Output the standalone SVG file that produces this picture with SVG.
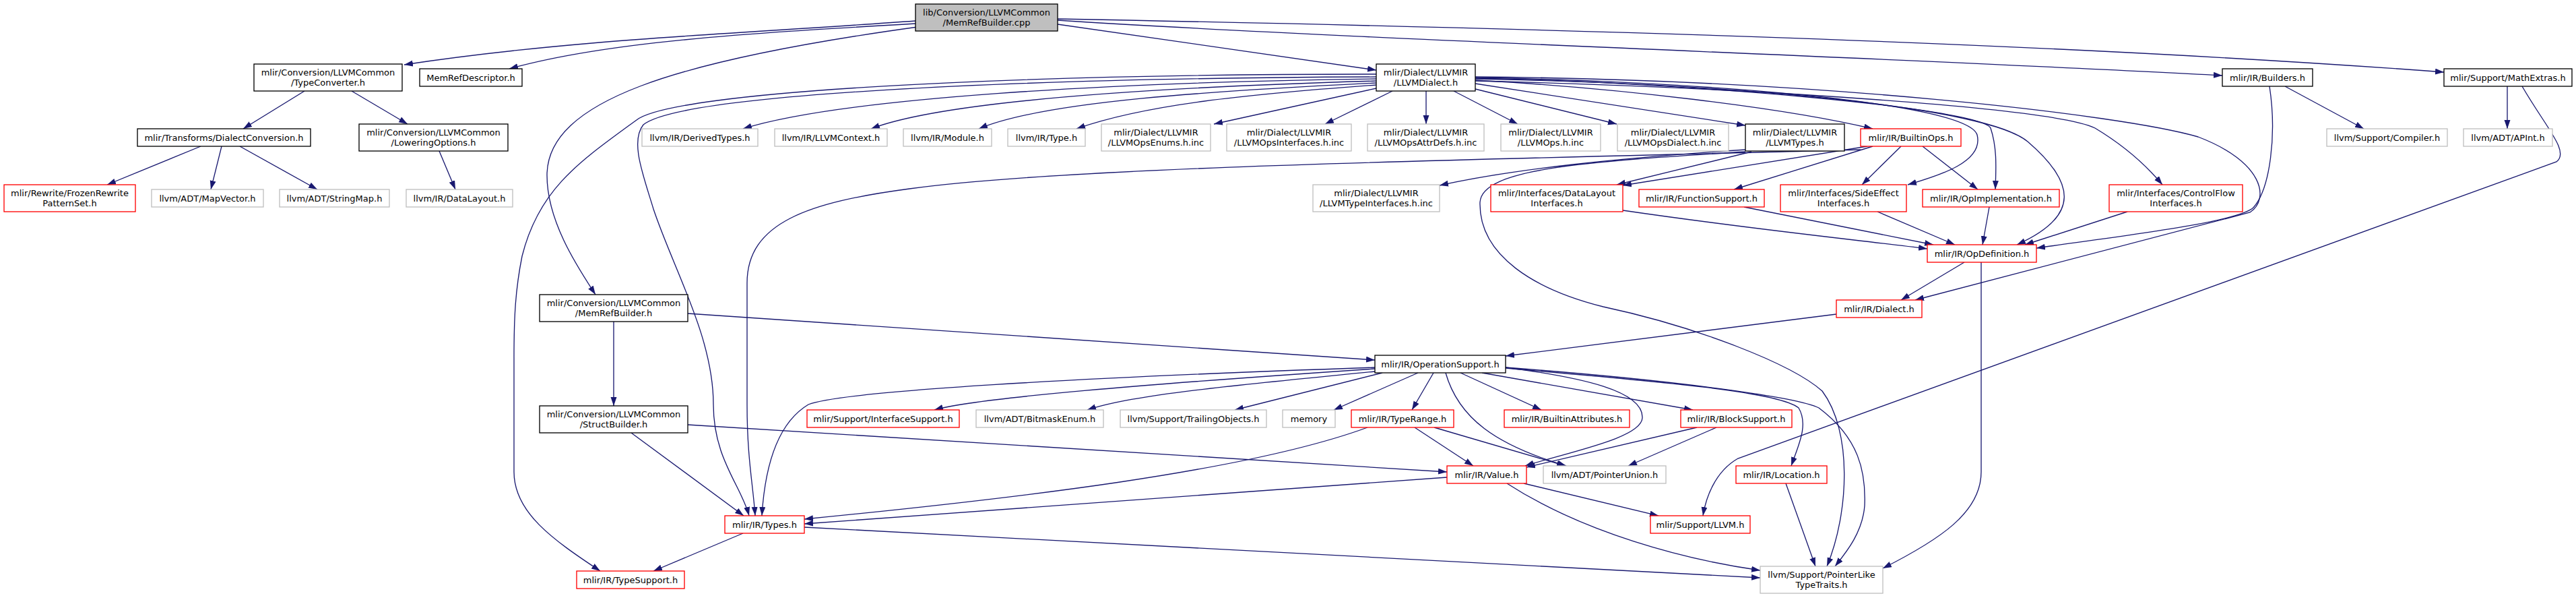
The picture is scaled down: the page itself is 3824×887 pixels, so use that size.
<svg xmlns="http://www.w3.org/2000/svg" width="3824" height="887" viewBox="0 0 3824 887">
<style>
rect{stroke-width:1.33}
.root{fill:#bfbfbf;stroke:#000}
.blk{fill:#fff;stroke:#000}
.gry{fill:#fff;stroke:#bfbfbf}
.red{fill:#fff;stroke:#ff0000}
text{font-family:"DejaVu Sans","Liberation Sans",sans-serif;font-size:13px;text-anchor:middle;fill:#000}
.e path{fill:none;stroke:#191970;stroke-width:1.33;marker-end:url(#ah)}
</style>
<defs>
<marker id="ah" markerWidth="14" markerHeight="10" refX="13" refY="4.5" orient="auto" markerUnits="userSpaceOnUse"><path d="M0,0 L13,4.5 L0,9 z" fill="#191970"/></marker>
</defs>
<rect width="3824" height="887" fill="#fff"/>
<g id="edges" class="e">
<path d="M1359,31 C1100,50 850,58 600,96"/>
<path d="M1359,35 C1100,50 900,62 756,102"/>
<path d="M1362,40 C1000,90 812,150 812,260 C812,330 860,400 884,437"/>
<path d="M1570,36 L2043,104"/>
<path d="M1570,30 C2000,58 2800,85 3299,112"/>
<path d="M1570,28 C2200,40 3000,60 3628,107"/>
<path d="M452,135 L361,191"/>
<path d="M522,135 L605,184"/>
<path d="M298,217 L159,274"/>
<path d="M329,217 L313,281"/>
<path d="M356,217 L471,281"/>
<path d="M652,224 L676,281"/>
<path d="M2043,117 C1650,122 1250,145 1103,191"/>
<path d="M2043,120 C1700,130 1400,150 1293,191"/>
<path d="M2043,123 C1800,135 1550,150 1453,191"/>
<path d="M2043,126 C1850,140 1700,155 1598,191"/>
<path d="M2043,131 L1802,184"/>
<path d="M2067,135 L1967,184"/>
<path d="M2117,135 L2117,184"/>
<path d="M2158,135 L2253,184"/>
<path d="M2190,132 L2400,184"/>
<path d="M2190,124 L2591,186"/>
<path d="M2190,119 C2400,130 2650,160 2780,191"/>
<path d="M2190,115 C2500,120 2920,150 2935,200 C2945,240 2880,260 2832,274"/>
<path d="M2190,116 C2500,122 2940,160 2955,190 C2965,220 2963,250 2962,281"/>
<path d="M2190,117 C2600,125 2950,160 3010,210 C3080,270 3090,320 2994,363"/>
<path d="M2190,120 C2600,130 3050,160 3110,190 C3160,220 3190,250 3210,274"/>
<path d="M2190,114 C2700,118 3150,170 3263,203 C3360,240 3370,295 3340,315 L2843,445"/>
<path d="M2043,114 C1500,116 1010,140 955,185 C935,210 955,260 970,310 C1000,400 1059,500 1059,600 C1059,680 1100,720 1112,765"/>
<path d="M2043,110 C1500,110 1000,135 945,178 C860,240 800,280 775,380 C765,430 763,470 763,530 L763,700 C763,760 820,800 891,847"/>
<path d="M3392,128 L3509,191"/>
<path d="M3369,128 C3380,200 3370,280 3345,308 C3320,330 3150,350 3023,368"/>
<path d="M3722,128 L3722,191"/>
<path d="M3744,128 C3780,190 3815,225 3795,240 L2580,680 C2545,700 2532,740 2528,765"/>
<path d="M2591,222 C2400,235 2250,250 2137,275"/>
<path d="M2600,225 L2400,274"/>
<path d="M2591,225 C2350,240 2200,250 2197,300 C2195,380 2280,430 2380,455 C2520,485 2660,540 2705,580 C2750,640 2745,760 2712,840"/>
<path d="M2822,217 L2764,274"/>
<path d="M2854,217 L2936,281"/>
<path d="M2780,217 L2574,281"/>
<path d="M2772,217 L2409,275"/>
<path d="M2762,222 C2300,235 1600,245 1350,280 C1200,300 1109,330 1109,420 L1109,600 C1109,680 1118,720 1121,765"/>
<path d="M2409,312 C2600,340 2750,355 2861,369"/>
<path d="M2589,307 L2870,363"/>
<path d="M2787,314 L2902,363"/>
<path d="M2953,307 L2943,363"/>
<path d="M3158,314 L3006,363"/>
<path d="M2916,389 L2822,445"/>
<path d="M2941,389 L2941,700 C2941,760 2880,800 2795,843"/>
<path d="M2726,466 L2235,528"/>
<path d="M911,477 L911,602"/>
<path d="M1021,465 L2041,534"/>
<path d="M937,642 L1104,765"/>
<path d="M1021,630 L2148,700"/>
<path d="M2041,545 C1600,560 1250,580 1200,600 C1150,630 1135,700 1131,765"/>
<path d="M2041,547 C1700,570 1450,590 1387,608"/>
<path d="M2041,551 C1850,570 1680,585 1614,608"/>
<path d="M2052,553 L1833,608"/>
<path d="M2105,553 L1980,608"/>
<path d="M2128,553 L2096,608"/>
<path d="M2168,553 L2288,608"/>
<path d="M2200,553 L2513,608"/>
<path d="M2146,553 C2165,620 2220,660 2325,691"/>
<path d="M2235,545 C2350,560 2440,580 2438,620 C2436,650 2330,670 2264,691"/>
<path d="M2235,546 C2450,565 2640,580 2670,605 C2685,630 2670,660 2659,691"/>
<path d="M2235,545 C2500,565 2670,590 2700,605 C2760,650 2770,700 2768,750 C2765,790 2740,820 2724,840"/>
<path d="M2148,708 L1194,777"/>
<path d="M2237,717 C2350,790 2500,830 2613,846"/>
<path d="M2262,717 L2462,765"/>
<path d="M2030,634 C1850,700 1500,740 1194,770"/>
<path d="M2100,634 L2187,691"/>
<path d="M2129,634 L2324,691"/>
<path d="M2519,634 L2266,693"/>
<path d="M2548,634 L2417,691"/>
<path d="M2651,717 L2695,840"/>
<path d="M1103,791 L970,847"/>
<path d="M1194,782 L2613,857"/>
</g>
<g id="root"><rect class="root" x="1359" y="6" width="211" height="40"/><text x="1464.5" y="22.5">lib/Conversion/LLVMCommon</text><text x="1464.5" y="37.5">/MemRefBuilder.cpp</text></g>
<g id="n_tc"><rect class="blk" x="377" y="95" width="220" height="40"/><text x="487" y="111.5">mlir/Conversion/LLVMCommon</text><text x="487" y="126.5">/TypeConverter.h</text></g>
<g id="n_mrd"><rect class="blk" x="623" y="102" width="152" height="26"/><text x="699" y="120">MemRefDescriptor.h</text></g>
<g id="n_ldl"><rect class="blk" x="2043" y="95" width="147" height="40"/><text x="2116.5" y="111.5">mlir/Dialect/LLVMIR</text><text x="2116.5" y="126.5">/LLVMDialect.h</text></g>
<g id="n_bld"><rect class="blk" x="3299" y="102" width="134" height="26"/><text x="3366" y="120">mlir/IR/Builders.h</text></g>
<g id="n_mex"><rect class="blk" x="3628" y="102" width="190" height="26"/><text x="3723" y="120">mlir/Support/MathExtras.h</text></g>
<g id="n_dc"><rect class="blk" x="204" y="191" width="257" height="26"/><text x="332.5" y="209">mlir/Transforms/DialectConversion.h</text></g>
<g id="n_lo"><rect class="blk" x="533" y="184" width="221" height="40"/><text x="643.5" y="200.5">mlir/Conversion/LLVMCommon</text><text x="643.5" y="215.5">/LoweringOptions.h</text></g>
<g id="n_dt"><rect class="gry" x="953" y="191" width="172" height="26"/><text x="1039" y="209">llvm/IR/DerivedTypes.h</text></g>
<g id="n_ctx"><rect class="gry" x="1150" y="191" width="167" height="26"/><text x="1233.5" y="209">llvm/IR/LLVMContext.h</text></g>
<g id="n_mod"><rect class="gry" x="1341" y="191" width="131" height="26"/><text x="1406.5" y="209">llvm/IR/Module.h</text></g>
<g id="n_typ"><rect class="gry" x="1496" y="191" width="115" height="26"/><text x="1553.5" y="209">llvm/IR/Type.h</text></g>
<g id="n_enm"><rect class="gry" x="1635" y="184" width="162" height="40"/><text x="1716" y="200.5">mlir/Dialect/LLVMIR</text><text x="1716" y="215.5">/LLVMOpsEnums.h.inc</text></g>
<g id="n_oif"><rect class="gry" x="1821" y="184" width="185" height="40"/><text x="1913.5" y="200.5">mlir/Dialect/LLVMIR</text><text x="1913.5" y="215.5">/LLVMOpsInterfaces.h.inc</text></g>
<g id="n_atd"><rect class="gry" x="2030" y="184" width="173" height="40"/><text x="2116.5" y="200.5">mlir/Dialect/LLVMIR</text><text x="2116.5" y="215.5">/LLVMOpsAttrDefs.h.inc</text></g>
<g id="n_ops"><rect class="gry" x="2228" y="184" width="148" height="40"/><text x="2302" y="200.5">mlir/Dialect/LLVMIR</text><text x="2302" y="215.5">/LLVMOps.h.inc</text></g>
<g id="n_odl"><rect class="gry" x="2401" y="184" width="165" height="40"/><text x="2483.5" y="200.5">mlir/Dialect/LLVMIR</text><text x="2483.5" y="215.5">/LLVMOpsDialect.h.inc</text></g>
<g id="n_lty"><rect class="blk" x="2591" y="184" width="147" height="40"/><text x="2664.5" y="200.5">mlir/Dialect/LLVMIR</text><text x="2664.5" y="215.5">/LLVMTypes.h</text></g>
<g id="n_bop"><rect class="red" x="2762" y="191" width="149" height="26"/><text x="2836.5" y="209">mlir/IR/BuiltinOps.h</text></g>
<g id="n_cmp"><rect class="gry" x="3454" y="191" width="179" height="26"/><text x="3543.5" y="209">llvm/Support/Compiler.h</text></g>
<g id="n_api"><rect class="gry" x="3657" y="191" width="132" height="26"/><text x="3723" y="209">llvm/ADT/APInt.h</text></g>
<g id="n_frp"><rect class="red" x="6" y="274" width="195" height="40"/><text x="103.5" y="290.5">mlir/Rewrite/FrozenRewrite</text><text x="103.5" y="305.5">PatternSet.h</text></g>
<g id="n_mv"><rect class="gry" x="225" y="281" width="166" height="26"/><text x="308" y="299">llvm/ADT/MapVector.h</text></g>
<g id="n_sm"><rect class="gry" x="415" y="281" width="163" height="26"/><text x="496.5" y="299">llvm/ADT/StringMap.h</text></g>
<g id="n_dl"><rect class="gry" x="603" y="281" width="158" height="26"/><text x="682" y="299">llvm/IR/DataLayout.h</text></g>
<g id="n_lti"><rect class="gry" x="1949" y="274" width="188" height="40"/><text x="2043" y="290.5">mlir/Dialect/LLVMIR</text><text x="2043" y="305.5">/LLVMTypeInterfaces.h.inc</text></g>
<g id="n_dli"><rect class="red" x="2213" y="274" width="196" height="40"/><text x="2311" y="290.5">mlir/Interfaces/DataLayout</text><text x="2311" y="305.5">Interfaces.h</text></g>
<g id="n_fs"><rect class="red" x="2433" y="281" width="186" height="26"/><text x="2526" y="299">mlir/IR/FunctionSupport.h</text></g>
<g id="n_sei"><rect class="red" x="2643" y="274" width="187" height="40"/><text x="2736.5" y="290.5">mlir/Interfaces/SideEffect</text><text x="2736.5" y="305.5">Interfaces.h</text></g>
<g id="n_oim"><rect class="red" x="2854" y="281" width="203" height="26"/><text x="2955.5" y="299">mlir/IR/OpImplementation.h</text></g>
<g id="n_cfi"><rect class="red" x="3131" y="274" width="198" height="40"/><text x="3230" y="290.5">mlir/Interfaces/ControlFlow</text><text x="3230" y="305.5">Interfaces.h</text></g>
<g id="n_odf"><rect class="red" x="2861" y="363" width="162" height="26"/><text x="2942" y="381">mlir/IR/OpDefinition.h</text></g>
<g id="n_mrb"><rect class="blk" x="801" y="437" width="220" height="40"/><text x="911" y="453.5">mlir/Conversion/LLVMCommon</text><text x="911" y="468.5">/MemRefBuilder.h</text></g>
<g id="n_dia"><rect class="red" x="2726" y="445" width="127" height="26"/><text x="2789.5" y="463">mlir/IR/Dialect.h</text></g>
<g id="n_osp"><rect class="blk" x="2041" y="527" width="194" height="26"/><text x="2138" y="545">mlir/IR/OperationSupport.h</text></g>
<g id="n_sb"><rect class="blk" x="801" y="602" width="220" height="40"/><text x="911" y="618.5">mlir/Conversion/LLVMCommon</text><text x="911" y="633.5">/StructBuilder.h</text></g>
<g id="n_is"><rect class="red" x="1198" y="608" width="226" height="26"/><text x="1311" y="626">mlir/Support/InterfaceSupport.h</text></g>
<g id="n_be"><rect class="gry" x="1449" y="608" width="189" height="26"/><text x="1543.5" y="626">llvm/ADT/BitmaskEnum.h</text></g>
<g id="n_to"><rect class="gry" x="1663" y="608" width="217" height="26"/><text x="1771.5" y="626">llvm/Support/TrailingObjects.h</text></g>
<g id="n_mem"><rect class="gry" x="1904" y="608" width="78" height="26"/><text x="1943" y="626">memory</text></g>
<g id="n_tr"><rect class="red" x="2006" y="608" width="152" height="26"/><text x="2082" y="626">mlir/IR/TypeRange.h</text></g>
<g id="n_ba"><rect class="red" x="2233" y="608" width="186" height="26"/><text x="2326" y="626">mlir/IR/BuiltinAttributes.h</text></g>
<g id="n_bs"><rect class="red" x="2495" y="608" width="165" height="26"/><text x="2577.5" y="626">mlir/IR/BlockSupport.h</text></g>
<g id="n_val"><rect class="red" x="2148" y="691" width="118" height="26"/><text x="2207" y="709">mlir/IR/Value.h</text></g>
<g id="n_pu"><rect class="gry" x="2291" y="691" width="182" height="26"/><text x="2382" y="709">llvm/ADT/PointerUnion.h</text></g>
<g id="n_loc"><rect class="red" x="2577" y="691" width="135" height="26"/><text x="2644.5" y="709">mlir/IR/Location.h</text></g>
<g id="n_tys"><rect class="red" x="1076" y="765" width="118" height="26"/><text x="1135" y="783">mlir/IR/Types.h</text></g>
<g id="n_llvm"><rect class="red" x="2450" y="765" width="148" height="26"/><text x="2524" y="783">mlir/Support/LLVM.h</text></g>
<g id="n_ts"><rect class="red" x="856" y="847" width="160" height="26"/><text x="936" y="865">mlir/IR/TypeSupport.h</text></g>
<g id="n_plt"><rect class="gry" x="2613" y="840" width="182" height="40"/><text x="2704" y="856.5">llvm/Support/PointerLike</text><text x="2704" y="871.5">TypeTraits.h</text></g>
</svg>
